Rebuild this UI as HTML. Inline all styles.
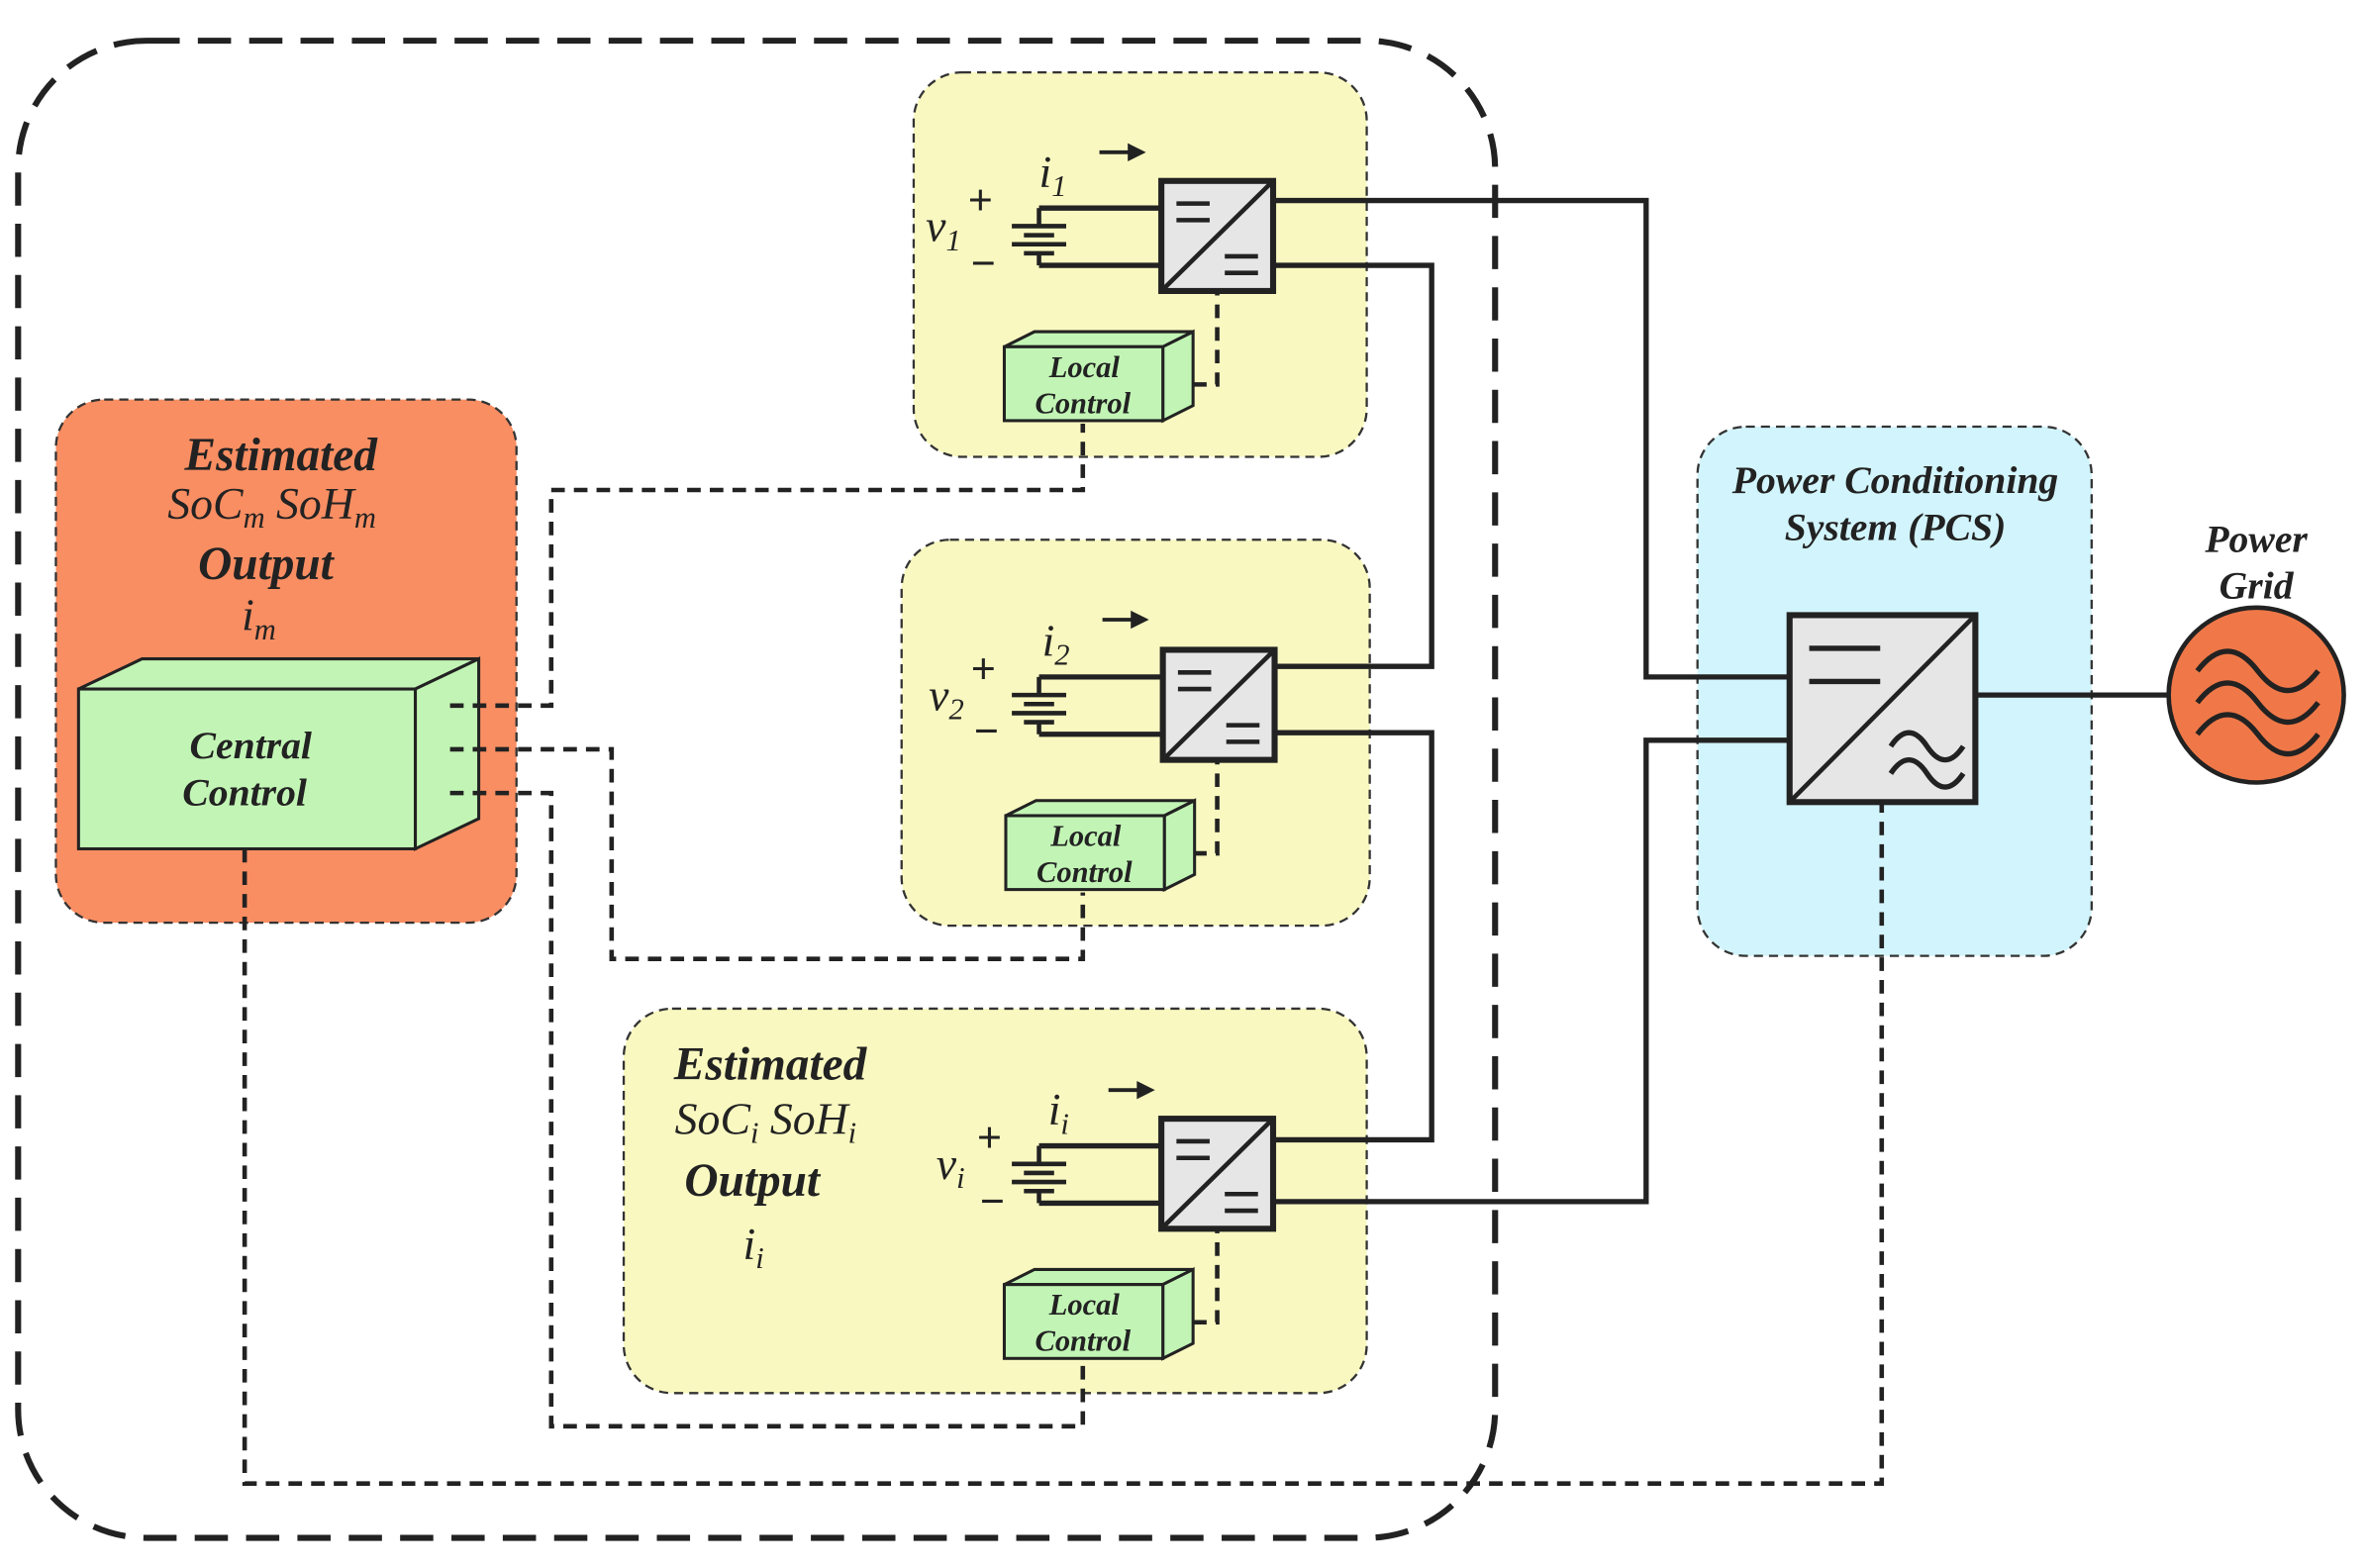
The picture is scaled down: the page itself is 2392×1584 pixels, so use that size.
<!DOCTYPE html>
<html><head><meta charset="utf-8"><style>
html,body{margin:0;padding:0;background:#fff;}
svg{display:block;}
text{font-family:"Liberation Serif",serif;font-style:italic;fill:#222;}
</style></head><body>
<svg width="2392" height="1584" viewBox="0 0 1568 1040" preserveAspectRatio="none" xmlns="http://www.w3.org/2000/svg">
<defs>
<g id="conv">
<rect x="0" y="0" width="74" height="73" fill="#e6e6e6" stroke="#222" stroke-width="4"/>
<line x1="0" y1="73" x2="74" y2="0" stroke="#222" stroke-width="3"/>
<line x1="10" y1="15" x2="32" y2="15" stroke="#222" stroke-width="3"/>
<line x1="10" y1="26" x2="32" y2="26" stroke="#222" stroke-width="3"/>
<line x1="42" y1="50" x2="64" y2="50" stroke="#222" stroke-width="3"/>
<line x1="42" y1="61" x2="64" y2="61" stroke="#222" stroke-width="3"/>
</g>
<g id="bat">
<line x1="0" y1="0" x2="0" y2="12" stroke="#222" stroke-width="3"/>
<line x1="-18" y1="12" x2="18" y2="12" stroke="#222" stroke-width="3"/>
<line x1="-10" y1="18" x2="10" y2="18" stroke="#222" stroke-width="3"/>
<line x1="-18" y1="24" x2="18" y2="24" stroke="#222" stroke-width="3"/>
<line x1="-10" y1="30" x2="10" y2="30" stroke="#222" stroke-width="3"/>
<line x1="0" y1="30" x2="0" y2="38" stroke="#222" stroke-width="3"/>
</g>
<g id="lc">
<polygon points="0,10 20,0 125,0 105,10" fill="#c2f5b5" stroke="#222" stroke-width="2"/>
<polygon points="105,10 125,0 125,49 105,59" fill="#c2f5b5" stroke="#222" stroke-width="2"/>
<rect x="0" y="10" width="105" height="49" fill="#c2f5b5" stroke="#222" stroke-width="2"/>
</g>
</defs>
<rect x="12" y="27" width="978" height="993" rx="85" fill="none" stroke="#222" stroke-width="4" stroke-dasharray="22 12"/>
<rect x="37" y="265" width="305" height="347" rx="32" fill="#f98e62" stroke="#333" stroke-width="1.5" stroke-dasharray="6 4"/>
<rect x="605" y="48" width="300" height="255" rx="32" fill="#f9f8c0" stroke="#333" stroke-width="1.5" stroke-dasharray="6 4"/>
<rect x="597" y="358" width="310" height="256" rx="32" fill="#f9f8c0" stroke="#333" stroke-width="1.5" stroke-dasharray="6 4"/>
<rect x="413" y="669" width="492" height="255" rx="32" fill="#f9f8c0" stroke="#333" stroke-width="1.5" stroke-dasharray="6 4"/>
<rect x="1124" y="283" width="261" height="351" rx="32" fill="#d2f4fc" stroke="#333" stroke-width="1.5" stroke-dasharray="6 4"/>
<!-- central control -->
<polygon points="52,457 94,437 317,437 275,457" fill="#c2f5b5" stroke="#222" stroke-width="2"/>
<polygon points="275,457 317,437 317,543 275,563" fill="#c2f5b5" stroke="#222" stroke-width="2"/>
<rect x="52" y="457" width="223" height="106" fill="#c2f5b5" stroke="#222" stroke-width="2"/>
<text x="166" y="503" font-size="26" font-weight="bold" text-anchor="middle">Central</text>
<text x="162" y="534" font-size="26" font-weight="bold" text-anchor="middle">Control</text>
<text x="186" y="312" font-size="31" font-weight="bold" text-anchor="middle">Estimated</text>
<text x="180" y="344" font-size="30" text-anchor="middle">SoC<tspan font-size="20" dy="6">m</tspan><tspan dy="-6"> SoH</tspan><tspan font-size="20" dy="6">m</tspan></text>
<text x="176" y="384" font-size="31" font-weight="bold" text-anchor="middle">Output</text>
<text x="160" y="418" font-size="30">i<tspan font-size="20" dy="6">m</tspan></text>
<text x="510" y="716" font-size="31" font-weight="bold" text-anchor="middle">Estimated</text>
<text x="507" y="752" font-size="30" text-anchor="middle">SoC<tspan font-size="20" dy="6">i</tspan><tspan dy="-6">  SoH</tspan><tspan font-size="20" dy="6">i</tspan></text>
<text x="498" y="793" font-size="31" font-weight="bold" text-anchor="middle">Output</text>
<text x="492" y="835" font-size="30">i<tspan font-size="20" dy="6">i</tspan></text>
<!-- wires -->
<g fill="none" stroke="#222" stroke-width="3.5">
<polyline points="843,133 1090,133 1090,449 1185,449"/>
<polyline points="843,176 948,176 948,442 844,442"/>
<polyline points="844,486 948,486 948,756 843,756"/>
<polyline points="843,797 1090,797 1090,491 1185,491"/>
<line x1="1308" y1="461" x2="1436" y2="461"/>
<polyline points="688,138 769,138"/><polyline points="688,176 769,176"/>
<polyline points="688,449 770,449"/><polyline points="688,487 770,487"/>
<polyline points="688,760 769,760"/><polyline points="688,798 769,798"/>
</g>
<g fill="none" stroke="#222" stroke-width="3" stroke-dasharray="9 6">
<polyline points="298,468 365,468 365,325 717,325 717,281"/>
<polyline points="298,497 405,497 405,636 717,636 717,592"/>
<polyline points="298,526 365,526 365,946 717,946 717,902"/>
<polyline points="162,563 162,984 1246,984 1246,532"/>
<polyline points="790,255 806,255 806,194"/>
<polyline points="790,566 806,566 806,505"/>
<polyline points="790,877 806,877 806,816"/>
</g>
<use href="#bat" x="688" y="138"/>
<use href="#bat" x="688" y="449"/>
<use href="#bat" x="688" y="760"/>
<use href="#conv" x="769" y="120"/>
<use href="#conv" x="770" y="431"/>
<use href="#conv" x="769" y="742"/>
<use href="#lc" x="665" y="220"/>
<use href="#lc" x="666" y="531"/>
<use href="#lc" x="665" y="842"/>
<g font-size="20" font-weight="bold" text-anchor="middle">
<text x="718" y="250">Local</text><text x="717" y="274">Control</text>
<text x="719" y="561">Local</text><text x="718" y="585">Control</text>
<text x="718" y="872">Local</text><text x="717" y="896">Control</text>
</g>
<g font-size="30">
<text x="613" y="160">v<tspan font-size="20" dy="6">1</tspan></text>
<text x="615" y="471">v<tspan font-size="20" dy="6">2</tspan></text>
<text x="620" y="782">v<tspan font-size="20" dy="6">i</tspan></text>
<text x="688" y="124">i<tspan font-size="20" dy="6">1</tspan></text>
<text x="690" y="435">i<tspan font-size="20" dy="6">2</tspan></text>
<text x="694" y="746">i<tspan font-size="20" dy="6">i</tspan></text>
</g>
<g font-family="Liberation Sans" font-size="28" fill="#222" style="font-style:normal">
<text x="641" y="142" style="font-style:normal;font-family:'Liberation Sans'">+</text>
<text x="643" y="184" style="font-style:normal;font-family:'Liberation Sans'">−</text>
<text x="643" y="453" style="font-style:normal;font-family:'Liberation Sans'">+</text>
<text x="645" y="494" style="font-style:normal;font-family:'Liberation Sans'">−</text>
<text x="647" y="764" style="font-style:normal;font-family:'Liberation Sans'">+</text>
<text x="649" y="806" style="font-style:normal;font-family:'Liberation Sans'">−</text>
</g>
<g stroke="#222" stroke-width="2.5" fill="#222">
<line x1="728" y1="101" x2="750" y2="101"/><polygon points="756,101 748,97 748,105"/>
<line x1="730" y1="411" x2="752" y2="411"/><polygon points="758,411 750,407 750,415"/>
<line x1="734" y1="723" x2="756" y2="723"/><polygon points="762,723 754,719 754,727"/>
</g>
<!-- PCS -->
<rect x="1185" y="408" width="123" height="124" fill="#e6e6e6" stroke="#222" stroke-width="4"/>
<line x1="1185" y1="532" x2="1308" y2="408" stroke="#222" stroke-width="3"/>
<line x1="1198" y1="430" x2="1245" y2="430" stroke="#222" stroke-width="3.5"/>
<line x1="1198" y1="452" x2="1245" y2="452" stroke="#222" stroke-width="3.5"/>
<path d="M1252,495 q12,-18 24,0 t24,0 M1252,513 q12,-18 24,0 t24,0" fill="none" stroke="#222" stroke-width="3.5"/>
<text x="1255" y="327" font-size="26" font-weight="bold" text-anchor="middle">Power Conditioning</text>
<text x="1255" y="358" font-size="26" font-weight="bold" text-anchor="middle">System (PCS)</text>
<text x="1494" y="366" font-size="26" font-weight="bold" text-anchor="middle">Power</text>
<text x="1494" y="397" font-size="26" font-weight="bold" text-anchor="middle">Grid</text>
<circle cx="1494" cy="461" r="58" fill="#f07848" stroke="#222" stroke-width="3"/>
<path d="M1455,445 q20,-26 40,0 t40,0 M1455,466 q20,-26 40,0 t40,0 M1455,487 q20,-26 40,0 t40,0" fill="none" stroke="#222" stroke-width="3.5"/>
</svg>
</body></html>
